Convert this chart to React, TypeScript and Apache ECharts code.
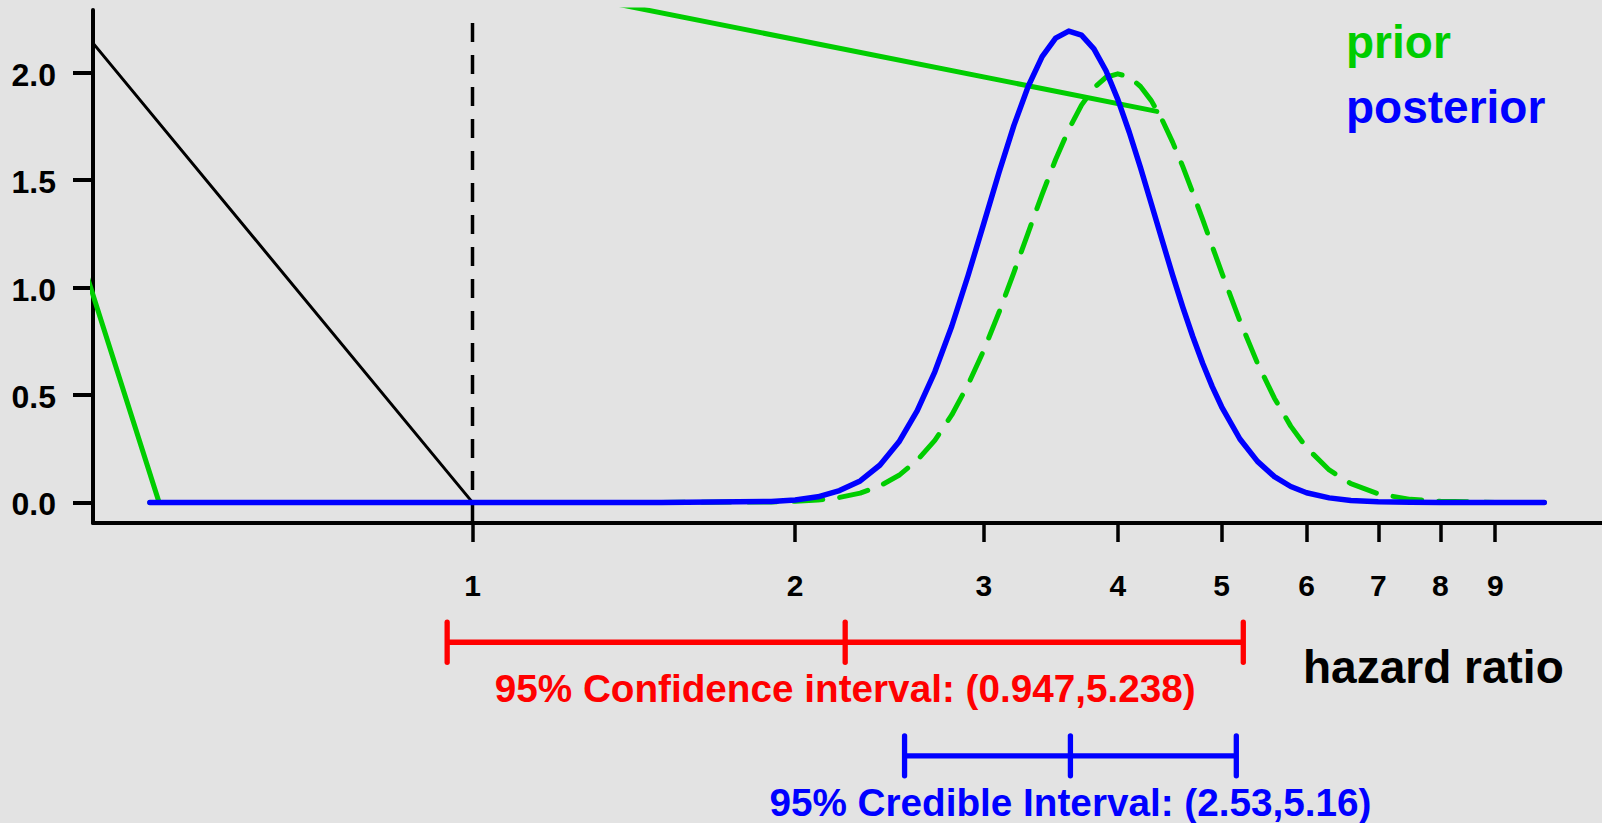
import React, { useEffect, useRef } from 'react';
import * as echarts from 'echarts';

// ---- data ----
const HR_GRID = [0.5, 1.0, 1.5, 1.9, 2.0, 2.1, 2.2, 2.3, 2.4, 2.5, 2.6, 2.7, 2.8, 2.9, 3.0, 3.1, 3.2, 3.3, 3.4, 3.5, 3.6, 3.7, 3.8, 3.9, 4.0, 4.1, 4.2, 4.3, 4.4, 4.5, 4.6, 4.7, 4.8, 4.9, 5.0, 5.2, 5.4, 5.6, 5.8, 6.0, 6.3, 6.6, 7.0, 7.5, 8.0, 9.0, 10.0];
const POSTERIOR = [0, 0, 0, 0.004, 0.011, 0.026, 0.055, 0.100, 0.174, 0.282, 0.427, 0.608, 0.820, 1.056, 1.300, 1.538, 1.755, 1.937, 2.075, 2.161, 2.194, 2.175, 2.111, 2.009, 1.876, 1.723, 1.558, 1.388, 1.220, 1.058, 0.908, 0.771, 0.648, 0.539, 0.445, 0.295, 0.191, 0.120, 0.074, 0.045, 0.021, 0.009, 0.003, 0.001, 0, 0, 0];
const PRIOR = [0, 0, 0, 0.002, 0.005, 0.011, 0.023, 0.043, 0.077, 0.126, 0.196, 0.289, 0.407, 0.548, 0.709, 0.886, 1.071, 1.256, 1.434, 1.596, 1.736, 1.849, 1.930, 1.979, 1.995, 1.980, 1.936, 1.869, 1.781, 1.677, 1.563, 1.441, 1.317, 1.192, 1.071, 0.844, 0.648, 0.485, 0.355, 0.255, 0.151, 0.087, 0.040, 0.014, 0.005, 0, 0];

const HR_TICKS = [1, 2, 3, 4, 5, 6, 7, 8, 9];
const HR_TICK_LABELS = ['1', '2', '3', '4', '5', '6', '7', '8', '9'];
const Y_TICKS = [0, 0.5, 1, 1.5, 2];
const Y_TICK_LABELS = ['0.0', '0.5', '1.0', '1.5', '2.0'];
const X_RANGE_HR = [0.4425, 11.32];
const Y_RANGE = [-0.096, 2.292];

const REF_HR = 1;
const GREEN_SEG_HR = [4.35, 0.3316, 0.51];
const GREEN_SEG_Y = [1.82, 2.929, 0];
const BLACK_SEG_HR = [0.4425, 1.0];
const BLACK_SEG_Y = [2.138, 0];

const INT_LOW = [0.947, 2.53];
const INT_MID = [2.227, 3.613];
const INT_HIGH = [5.238, 5.16];
const INT_ROW = [-0.651, -1.18];
const INT_LABELS = ['95% Confidence interval: (0.947,5.238)', '95% Credible Interval: (2.53,5.16)'];
const INT_COLORS = ['#ff0000', '#0000ff'];

const FONT = '"Liberation Sans", Arial, Helvetica, sans-serif';
const GREEN = '#00cd00';
const BLUE = '#0000ff';
const BG = '#e3e3e3';

const ln = Math.log;

function buildOption(): any {
  const pairs = (xs: number[], ys: number[]) => xs.map((h, i) => [ln(h), ys[i]]);
  const xMin = ln(X_RANGE_HR[0]);
  return {
    animation: false,
    backgroundColor: BG,
    grid: { left: 93, right: 0, top: 10, bottom: 300, containLabel: false, outerBoundsMode: 'none' },
    xAxis: {
      type: 'value',
      min: xMin,
      max: ln(X_RANGE_HR[1]),
      axisLine: { show: true, onZero: false, lineStyle: { color: '#000', width: 4 } },
      axisTick: { show: true, customValues: HR_TICKS.map(ln), length: 19, lineStyle: { color: '#000', width: 3.5 } },
      axisLabel: { show: false },
      splitLine: { show: false },
    },
    yAxis: {
      type: 'value',
      min: Y_RANGE[0],
      max: Y_RANGE[1],
      axisLine: { show: true, onZero: false, lineStyle: { color: '#000', width: 4 } },
      axisTick: { show: true, customValues: Y_TICKS, length: 20, lineStyle: { color: '#000', width: 4 } },
      axisLabel: { show: false },
      splitLine: { show: false },
    },
    graphic: [
      { type: 'text', x: 1346, y: 42.4, style: { text: 'prior', fill: GREEN, font: `bold 46px ${FONT}`, align: 'left', verticalAlign: 'middle', textAlign: 'left', textVerticalAlign: 'middle' } },
      { type: 'text', x: 1346, y: 107.4, style: { text: 'posterior', fill: BLUE, font: `bold 46px ${FONT}`, align: 'left', verticalAlign: 'middle', textAlign: 'left', textVerticalAlign: 'middle' } },
      { type: 'text', x: 1303, y: 666.7, style: { text: 'hazard ratio', fill: '#000', font: `bold 46px ${FONT}`, align: 'left', verticalAlign: 'middle', textAlign: 'left', textVerticalAlign: 'middle' } },
    ],
    series: [
      {
        type: 'line',
        data: pairs(BLACK_SEG_HR, BLACK_SEG_Y),
        symbol: 'none',
        lineStyle: { color: '#000', width: 3, cap: 'round' },
        silent: true,
      },
      {
        type: 'line',
        data: [[ln(REF_HR), Y_RANGE[1]], [ln(REF_HR), Y_RANGE[0]]],
        symbol: 'none',
        lineStyle: { color: '#000', width: 3.5, type: [19, 13], dashOffset: 19, cap: 'butt' },
        silent: true,
      },
      {
        type: 'line',
        data: pairs(GREEN_SEG_HR, GREEN_SEG_Y),
        symbol: 'none',
        lineStyle: { color: GREEN, width: 5, cap: 'round', join: 'round' },
        silent: true,
      },
      {
        type: 'line',
        data: pairs(HR_GRID, PRIOR),
        symbol: 'none',
        smooth: false,
        lineStyle: { color: GREEN, width: 5, type: [29, 17], cap: 'round', join: 'round' },
        silent: true,
      },
      {
        type: 'line',
        data: pairs(HR_GRID, POSTERIOR),
        symbol: 'none',
        smooth: false,
        lineStyle: { color: BLUE, width: 5.5, cap: 'round', join: 'round' },
        silent: true,
      },
      // x tick labels
      {
        type: 'custom',
        clip: false,
        silent: true,
        encode: { x: 0, y: 1 },
        data: HR_TICKS.map((v) => [ln(v), Y_RANGE[0]]),
        renderItem: (params: any, api: any) => {
          const p = api.coord([api.value(0), api.value(1)]);
          return {
            type: 'text',
            x: p[0],
            y: p[1] + 62,
            style: {
              text: HR_TICK_LABELS[params.dataIndex],
              fill: '#000',
              font: `bold 30px ${FONT}`,
              align: 'center',
              verticalAlign: 'middle',
            },
          };
        },
      },
      // y tick labels
      {
        type: 'custom',
        clip: false,
        silent: true,
        encode: { x: 0, y: 1 },
        data: Y_TICKS.map((v) => [xMin, v]),
        renderItem: (params: any, api: any) => {
          const p = api.coord([api.value(0), api.value(1)]);
          return {
            type: 'text',
            x: p[0] - 37,
            y: p[1] + 2,
            style: {
              text: Y_TICK_LABELS[params.dataIndex],
              fill: '#000',
              font: `bold 32px ${FONT}`,
              align: 'right',
              verticalAlign: 'middle',
            },
          };
        },
      },
      {
        type: 'custom',
        clip: false,
        silent: true,
        encode: { x: [0, 1, 2], y: 3 },
        data: INT_LOW.map((lo, i) => [ln(lo), ln(INT_MID[i]), ln(INT_HIGH[i]), INT_ROW[i]]),
        renderItem: (params: any, api: any) => {
          const y = api.value(3);
          const a = api.coord([api.value(0), y]);
          const m = api.coord([api.value(1), y]);
          const b = api.coord([api.value(2), y]);
          const color = INT_COLORS[params.dataIndex];
          const cap = (p: number[]) => ({
            type: 'line',
            shape: { x1: p[0], y1: p[1] - 20, x2: p[0], y2: p[1] + 20 },
            style: { stroke: color, lineWidth: 5.3, lineCap: 'round' },
          });
          return {
            type: 'group',
            children: [
              { type: 'line', shape: { x1: a[0], y1: a[1], x2: b[0], y2: b[1] }, style: { stroke: color, lineWidth: 5.3 } },
              cap(a),
              cap(m),
              cap(b),
              {
                type: 'text',
                x: m[0],
                y: m[1] + 46.5,
                style: {
                  text: INT_LABELS[params.dataIndex],
                  fill: color,
                  font: `bold 38.7px ${FONT}`,
                  align: 'center',
                  verticalAlign: 'middle',
                },
              },
            ],
          };
        },
      },
    ],
  };
}

export default function App() {
  const ref = useRef<HTMLDivElement>(null);
  useEffect(() => {
    if (!ref.current) return;
    const chart = echarts.init(ref.current, null, { renderer: 'svg' });
    chart.setOption(buildOption());
    return () => chart.dispose();
  }, []);
  return (
    <div
      ref={ref}
      style={{ position: 'absolute', left: 0, top: 0, width: 1602, height: 823, background: BG }}
    />
  );
}
